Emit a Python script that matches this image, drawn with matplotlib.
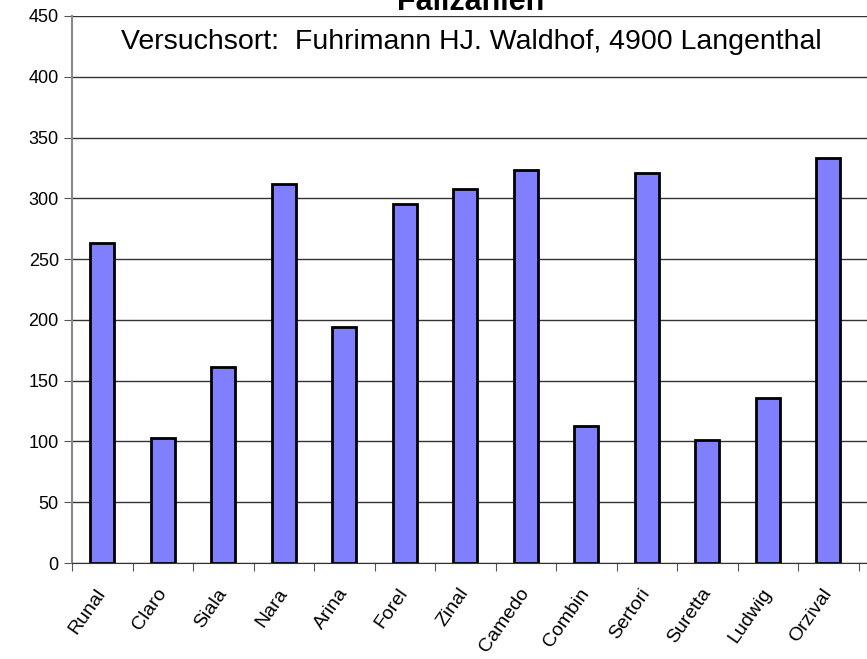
import matplotlib
matplotlib.use("Agg")
import matplotlib.pyplot as plt
import matplotlib.transforms as mtransforms
import numpy as np

plt.rcParams['font.family'] = ['Liberation Sans', 'DejaVu Sans']

# Daten
sorten = ['Runal', 'Claro', 'Siala', 'Nara', 'Arina', 'Forel', 'Zinal',
          'Camedo', 'Combin', 'Sertori', 'Suretta', 'Ludwig', 'Orzival']
fallzahlen = [263, 103, 161, 312, 194, 295, 308, 323, 113, 321, 101, 136, 333]

fig = plt.figure(figsize=(8.67, 6.59), dpi=100)
ax = fig.add_axes([72 / 867, 1 - 563 / 659, 1 - 72 / 867, (563 - 16) / 659])

x = np.arange(len(sorten))
ax.bar(x, fallzahlen, width=0.4, color='#8080FF', edgecolor='black', linewidth=2, zorder=3)

ax.set_ylim(0, 450)
ax.set_yticks(np.arange(0, 451, 50))
ax.set_xlim(-0.5, 12.64)
ax.yaxis.grid(True, color='#333333', linewidth=1)
ax.set_axisbelow(True)

# Striche zwischen den Kategorien, Beschriftung in der Mitte
ax.set_xticks(np.arange(-0.5, 13, 1.0))
ax.set_xticklabels([])
ax.set_xticks(x, minor=True)
ax.set_xticklabels(sorten, minor=True, rotation=55, ha='right',
                   rotation_mode='anchor', fontsize=14)
ax.tick_params(axis='x', which='minor', length=0, pad=16)
ax.tick_params(axis='x', which='major', length=6, color='#555555')
ax.tick_params(axis='y', length=6, color='#555555', labelsize=13)

# Beschriftungen etwas nach links schieben
shift = mtransforms.ScaledTranslation(-7 / 100, 0, fig.dpi_scale_trans)
for lbl in ax.get_xticklabels(minor=True):
    lbl.set_transform(lbl.get_transform() + shift)

for s in ['top', 'right']:
    ax.spines[s].set_visible(False)
ax.spines['left'].set_color('#888888')
ax.spines['left'].set_linewidth(1.5)
ax.spines['bottom'].set_color('#333333')

fig.text(0.543, 1 - 10 / 659, 'Fallzahlen', ha='center', va='baseline',
         fontsize=22, fontweight='bold')
fig.text(0.544, 1 - 42 / 659, 'Versuchsort:  Fuhrimann HJ. Waldhof, 4900 Langenthal',
         ha='center', va='center', fontsize=20.5)

fig.savefig('out.png', dpi=100)
